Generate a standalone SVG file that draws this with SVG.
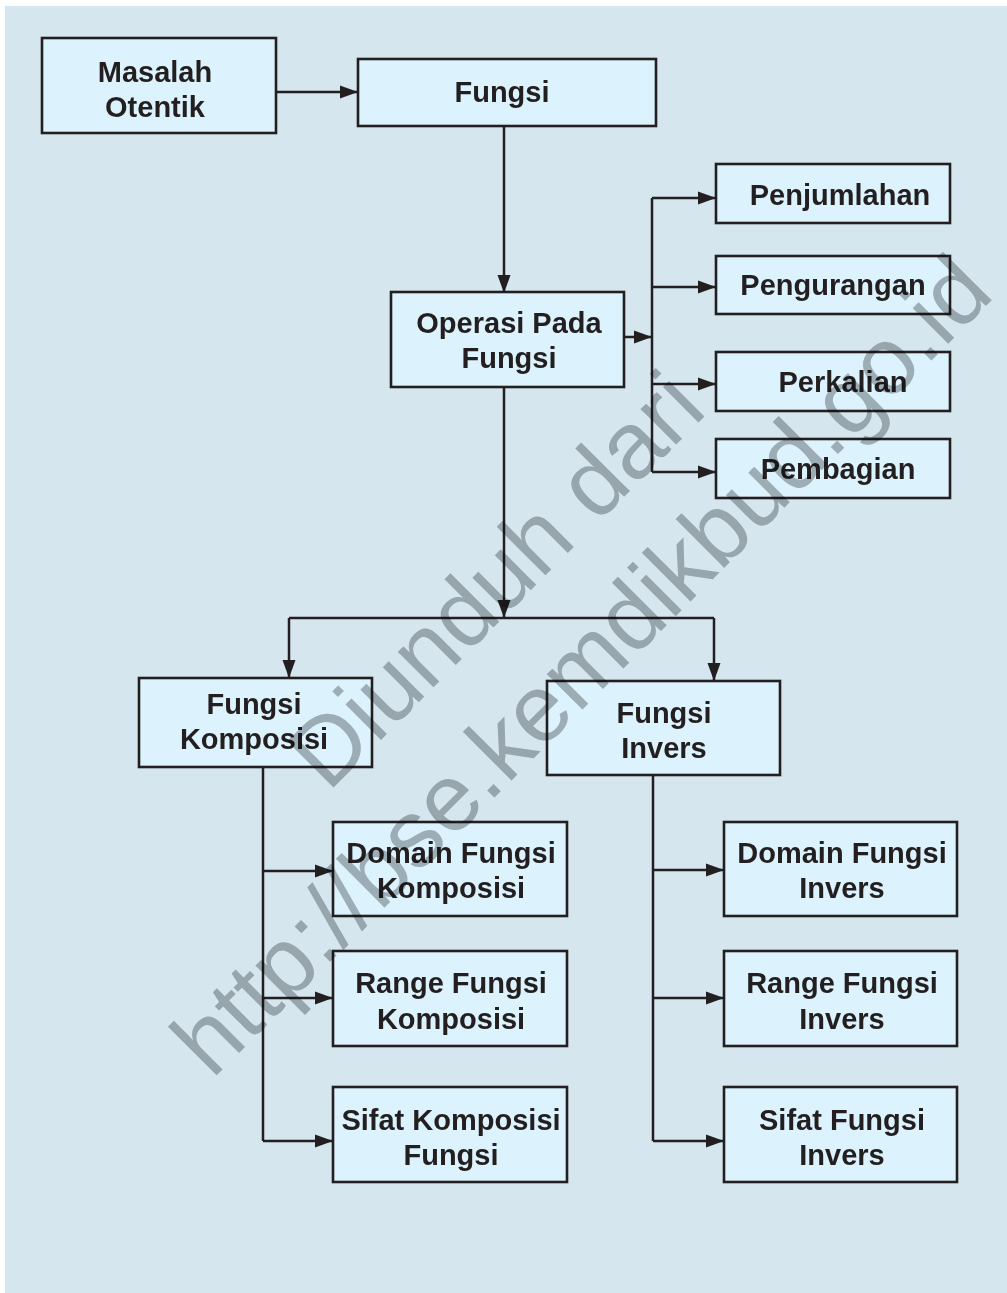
<svg xmlns="http://www.w3.org/2000/svg" width="1007" height="1293" viewBox="0 0 1007 1293">
<defs>
<style>
.bg{fill:#d5e6ef}
.box{fill:#dcf2fc;stroke:#231f20;stroke-width:2.6}
.lbl{font-family:"Liberation Sans",Arial,sans-serif;font-weight:bold;font-size:29px;fill:#231f20;text-anchor:middle}
.con{fill:none;stroke:#231f20;stroke-width:2.5}
.arr{marker-end:url(#ah)}
.wm{font-family:"Liberation Sans",Arial,sans-serif;font-size:95px;fill:#b5b7b8;text-anchor:middle;mix-blend-mode:multiply}
</style>
<marker id="ah" markerUnits="userSpaceOnUse" markerWidth="18" markerHeight="14" viewBox="0 0 18 14" refX="18" refY="7" orient="auto">
<path d="M0,0.5 L18,7 L0,13.5 Z" fill="#231f20"/>
</marker>
</defs>
<rect class="bg" x="5" y="6" width="1002" height="1287"/>
<g id="connectors">
<path class="con arr" d="M276,92 H358"/>
<path class="con arr" d="M504,126 V293"/>
<path class="con arr" d="M624,337 H652"/>
<path class="con" d="M652,198 V472"/>
<path class="con arr" d="M652,198 H716"/>
<path class="con arr" d="M652,287 H716"/>
<path class="con arr" d="M652,384 H716"/>
<path class="con arr" d="M652,472 H716"/>
<path class="con arr" d="M504,387 V618"/>
<path class="con" d="M289,618 H714"/>
<path class="con arr" d="M289,618 V678"/>
<path class="con arr" d="M714,618 V681"/>
<path class="con" d="M263,767 V1141"/>
<path class="con arr" d="M263,871 H333"/>
<path class="con arr" d="M263,998 H333"/>
<path class="con arr" d="M263,1141 H333"/>
<path class="con" d="M653,775 V1141"/>
<path class="con arr" d="M653,870 H724"/>
<path class="con arr" d="M653,998 H724"/>
<path class="con arr" d="M653,1141 H724"/>
</g>
<g id="masalah-otentik"><rect class="box" x="42" y="38" width="234" height="95"/><text class="lbl" x="155" y="82">Masalah</text><text class="lbl" x="155" y="117">Otentik</text></g>
<g id="fungsi"><rect class="box" x="358" y="59" width="298" height="67"/><text class="lbl" x="502" y="102">Fungsi</text></g>
<g id="operasi"><rect class="box" x="391" y="292" width="233" height="95"/><text class="lbl" x="509" y="333">Operasi Pada</text><text class="lbl" x="509" y="368">Fungsi</text></g>
<g id="penjumlahan"><rect class="box" x="716" y="164" width="234" height="59"/><text class="lbl" x="840" y="205">Penjumlahan</text></g>
<g id="pengurangan"><rect class="box" x="716" y="256" width="234" height="58"/><text class="lbl" x="833" y="295">Pengurangan</text></g>
<g id="perkalian"><rect class="box" x="716" y="352" width="234" height="59"/><text class="lbl" x="843" y="392">Perkalian</text></g>
<g id="pembagian"><rect class="box" x="716" y="439" width="234" height="59"/><text class="lbl" x="838" y="479">Pembagian</text></g>
<g id="fungsi-komposisi"><rect class="box" x="139" y="678" width="233" height="89"/><text class="lbl" x="254" y="714">Fungsi</text><text class="lbl" x="254" y="749">Komposisi</text></g>
<g id="fungsi-invers"><rect class="box" x="547" y="681" width="233" height="94"/><text class="lbl" x="664" y="723">Fungsi</text><text class="lbl" x="664" y="758">Invers</text></g>
<g id="domain-komposisi"><rect class="box" x="333" y="822" width="234" height="94"/><text class="lbl" x="451" y="863">Domain Fungsi</text><text class="lbl" x="451" y="898">Komposisi</text></g>
<g id="range-komposisi"><rect class="box" x="333" y="951" width="234" height="95"/><text class="lbl" x="451" y="993">Range Fungsi</text><text class="lbl" x="451" y="1029">Komposisi</text></g>
<g id="sifat-komposisi"><rect class="box" x="333" y="1087" width="234" height="95"/><text class="lbl" x="451" y="1130">Sifat Komposisi</text><text class="lbl" x="451" y="1165">Fungsi</text></g>
<g id="domain-invers"><rect class="box" x="724" y="822" width="233" height="94"/><text class="lbl" x="842" y="863">Domain Fungsi</text><text class="lbl" x="842" y="898">Invers</text></g>
<g id="range-invers"><rect class="box" x="724" y="951" width="233" height="95"/><text class="lbl" x="842" y="993">Range Fungsi</text><text class="lbl" x="842" y="1029">Invers</text></g>
<g id="sifat-invers"><rect class="box" x="724" y="1087" width="233" height="95"/><text class="lbl" x="842" y="1130">Sifat Fungsi</text><text class="lbl" x="842" y="1165">Invers</text></g>
<g id="watermark" transform="translate(604,688) rotate(-45)">
<text class="wm" x="0" y="-121">Diunduh dari</text>
<text class="wm" x="0" y="0">http://bse.kemdikbud.go.id</text>
</g>
</svg>
